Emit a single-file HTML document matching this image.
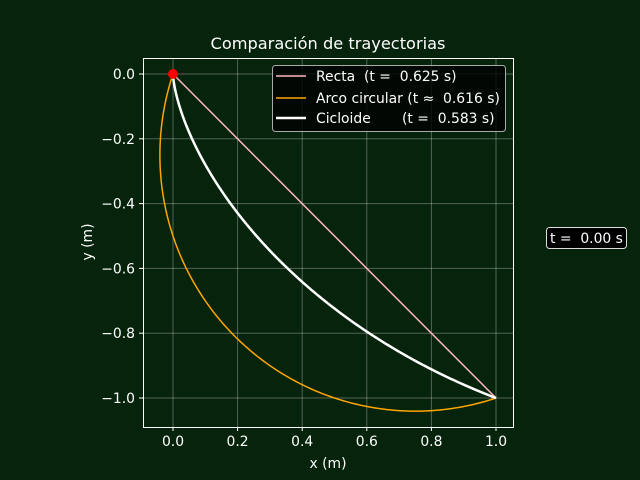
<!DOCTYPE html>
<html><head><meta charset="utf-8"><style>
body{margin:0;background:#06230c;}
svg{display:block;font-family:"DejaVu Sans","Liberation Sans",sans-serif;}
</style></head><body>
<svg id="chart" width="640" height="480">
<rect width="640" height="480" fill="#06230c"/>
<g id="grid"></g>
<g id="series"></g>
<rect x="143.5" y="58.5" width="370" height="369" fill="none" stroke="#fff" stroke-width="1"/>
<g id="ticks"></g>
<text x="328" y="49" fill="#fff" font-size="16.2" text-anchor="middle">Comparación de trayectorias</text>
<text x="328" y="468" fill="#fff" font-size="13.9" text-anchor="middle">x (m)</text>
<text transform="translate(92,242) rotate(-90)" fill="#fff" font-size="13.9" text-anchor="middle">y (m)</text>
<g>
<rect x="272.5" y="65.5" width="233" height="66" rx="3" fill="#000" fill-opacity="0.8" stroke="#aaa"/>
<line x1="276" y1="76" x2="306" y2="76" stroke="#ffb6c1" stroke-width="1.5"/>
<text x="316" y="81" fill="#fff" font-size="13.9" xml:space="preserve">Recta  (t =  0.625 s)</text>
<line x1="276" y1="98" x2="306" y2="98" stroke="#ffa500" stroke-width="1.5"/>
<text x="316" y="103" fill="#fff" font-size="13.9" xml:space="preserve">Arco circular (t ≈  0.616 s)</text>
<line x1="276" y1="118" x2="306" y2="118" stroke="#fff" stroke-width="2.5"/>
<text x="316" y="123" fill="#fff" font-size="13.9" xml:space="preserve">Cicloide</text>
<text x="402" y="123" fill="#fff" font-size="13.9" xml:space="preserve">(t =  0.583 s)</text>
</g>
<g>
<rect x="546.5" y="227.5" width="80" height="21" rx="3" fill="#000" stroke="#ddd"/>
<text x="550" y="243" fill="#fff" font-size="13.9" xml:space="preserve">t =  0.00 s</text>
</g>
</svg>
<script>
const xTicks=[0.0,0.2,0.4,0.6,0.8,1.0];
const yTicks=[0.0,-0.2,-0.4,-0.6,-0.8,-1.0];
const startPoint=[0,0];
const endPoint=[1,-1];
const arcCenter=[0.75,-0.25];
const cycloidTheta=[2.412];
function X(v){return 173+v*323;}
function Y(v){return 74-v*324;}
const NS="http://www.w3.org/2000/svg";
function mk(p,t,a){const e=document.createElementNS(NS,t);for(const k in a)e.setAttribute(k,a[k]);p.appendChild(e);return e;}
const grid=document.getElementById('grid'),ticks=document.getElementById('ticks'),ser=document.getElementById('series');
xTicks.forEach(v=>{
 const g=mk(grid,'line',{x1:X(v),x2:X(v),y1:58,y2:427,stroke:'#fff','stroke-opacity':0.3,'stroke-width':1});
 
 
 const t=mk(ticks,'line',{x1:X(v),x2:X(v),y1:427,y2:431,stroke:'#fff'});
 
 
 const l=mk(ticks,'text',{x:X(v),y:446,fill:'#fff','font-size':13.9,'text-anchor':'middle'});l.textContent=v.toFixed(1);
 
 
});
yTicks.forEach(v=>{
 const g=mk(grid,'line',{x1:143,x2:513,y1:Y(v),y2:Y(v),stroke:'#fff','stroke-opacity':0.3,'stroke-width':1});
 
 
 const t=mk(ticks,'line',{x1:139,x2:143,y1:Y(v),y2:Y(v),stroke:'#fff'});
 
 
 const l=mk(ticks,'text',{x:135,y:Y(v)+5,fill:'#fff','font-size':13.9,'text-anchor':'end'});l.textContent=(v===0?0:v).toFixed(1).replace('-','−');
 
 
});
const r=mk(ser,'line',{x1:X(startPoint[0]),y1:Y(startPoint[1]),x2:X(endPoint[0]),y2:Y(endPoint[1]),stroke:'#ffb6c1','stroke-width':1.5});


const cx=arcCenter[0],cy=arcCenter[1];
const R=Math.hypot(startPoint[0]-cx,startPoint[1]-cy);
let a0=Math.atan2(startPoint[1]-cy,startPoint[0]-cx),a1=Math.atan2(endPoint[1]-cy,endPoint[0]-cx);
if(a1<a0)a1+=2*Math.PI;
let d='';
for(let i=0;i<=200;i++){const a=a0+(a1-a0)*i/200;d+=(i?'L':'M')+X(cx+R*Math.cos(a)).toFixed(2)+','+Y(cy+R*Math.sin(a)).toFixed(2);}
const ap=mk(ser,'path',{d:d,fill:'none',stroke:'#ffa500','stroke-width':1.5});


const th=cycloidTheta[0];
const rc=(endPoint[0]-startPoint[0])/(th-Math.sin(th));
d='';
for(let i=0;i<=200;i++){const t=th*i/200;d+=(i?'L':'M')+X(startPoint[0]+rc*(t-Math.sin(t))).toFixed(2)+','+Y(startPoint[1]-rc*(1-Math.cos(t))).toFixed(2);}
const cp=mk(ser,'path',{d:d,fill:'none',stroke:'#fff','stroke-width':2.5});


const ball=mk(ser,'circle',{cx:X(startPoint[0]),cy:Y(startPoint[1]),r:5,fill:'#ff0000'});


</script>
</body></html>
